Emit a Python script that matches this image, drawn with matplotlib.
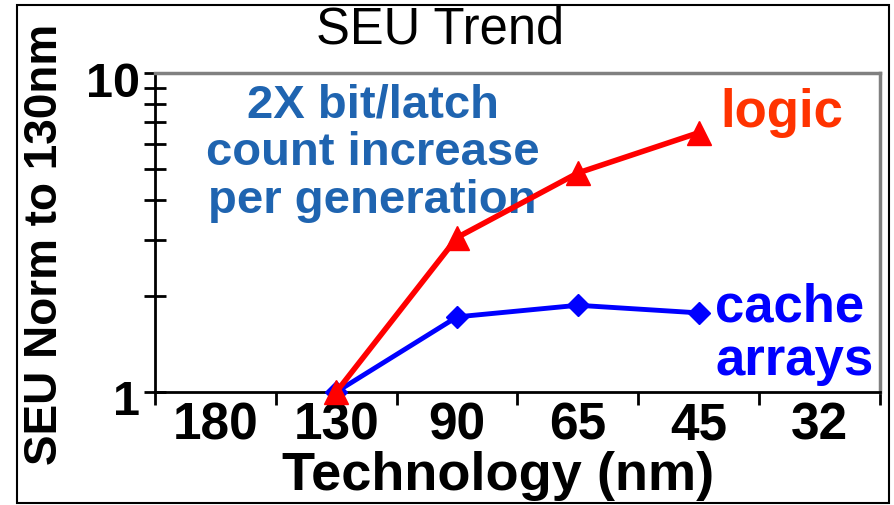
import numpy as np
import matplotlib.pyplot as plt
from matplotlib.patches import Rectangle
from matplotlib.ticker import FixedLocator, NullFormatter
from matplotlib.transforms import ScaledTranslation

# technology nodes and SEU rates normalised to 130nm
nodes = ["180", "130", "90", "65", "45", "32"]
logic_nodes = ["130", "90", "65", "45"]
logic_seu = [1.0, 3.05, 4.86, 6.5]
cache_nodes = ["130", "90", "65", "45"]
cache_seu = [1.0, 1.72, 1.87, 1.77]

plt.rcParams["font.family"] = ["Liberation Sans", "DejaVu Sans"]

fig = plt.figure(figsize=(8.94, 5.05), dpi=100)
ax = fig.add_axes([0.1734, 0.2238, 0.8109, 0.6316])

xpos = {n: i for i, n in enumerate(nodes)}
ax.plot([xpos[n] for n in cache_nodes], cache_seu, "-D", color="#0000FF",
        lw=3.5, ms=11, zorder=3, clip_on=False)
ax.plot([xpos[n] for n in logic_nodes], logic_seu, "-^", color="#FF0000",
        lw=4, ms=17, zorder=4, clip_on=False)

ax.set_yscale("log")
ax.set_ylim(1, 10)
ax.set_xlim(-0.5, len(nodes) - 0.5)

# category labels centred, tick marks between categories
ax.set_xticks(range(len(nodes)))
ax.set_xticklabels(nodes, fontsize=37, fontweight="bold")
ax.tick_params(axis="x", which="major", length=0, pad=7)
ax.xaxis.set_minor_locator(FixedLocator(np.arange(-0.5, len(nodes), 1.0)))
ax.tick_params(axis="x", which="minor", length=9, width=2, direction="out")

ax.set_yticks([1, 10])
ax.set_yticklabels(["1", "10"], fontsize=35, fontweight="bold")
ax.yaxis.set_minor_formatter(NullFormatter())
ax.tick_params(axis="y", which="both", direction="inout", length=16, width=2,
               pad=3)
shift = ScaledTranslation(0, -6 / 100, fig.dpi_scale_trans)
for lab in ax.get_yticklabels():
    lab.set_transform(lab.get_transform() + shift)

for s in ["left", "bottom"]:
    ax.spines[s].set_color("black")
    ax.spines[s].set_linewidth(2)
for s in ["top", "right"]:
    ax.spines[s].set_color("#808080")
    ax.spines[s].set_linewidth(2.5)

fig.text(498 / 894, 1 - 490 / 505, "Technology (nm)", fontsize=39,
         fontweight="bold", ha="center", va="baseline")
fig.text(57 / 894, 1 - 244 / 505, "SEU Norm to 130nm", fontsize=33,
         fontweight="bold", rotation=90, rotation_mode="anchor",
         ha="center", va="baseline")

fig.text(440 / 894, 1 - 30 / 505, "SEU Trend", fontsize=36.5, ha="center",
         va="center")

ax.text(1.3, 9.3, "2X bit/latch\ncount increase\nper generation",
        fontsize=34, fontweight="bold", color="#1F64B0", ha="center",
        va="top", linespacing=1.12)
ax.text(4.18, 8.97, "logic", fontsize=38, fontweight="bold", color="#FF3300",
        ha="left", va="top")
ax.text(4.136, 2.2, "cache\narrays", fontsize=38, fontweight="bold",
        color="#0000FF", ha="left", va="top", linespacing=1.08)

fig.patches.append(Rectangle((17 / 894, 2 / 505), 872 / 894, 498 / 505,
                             transform=fig.transFigure, fill=False,
                             edgecolor="black", lw=1.5))

fig.savefig("out.png", dpi=100)
